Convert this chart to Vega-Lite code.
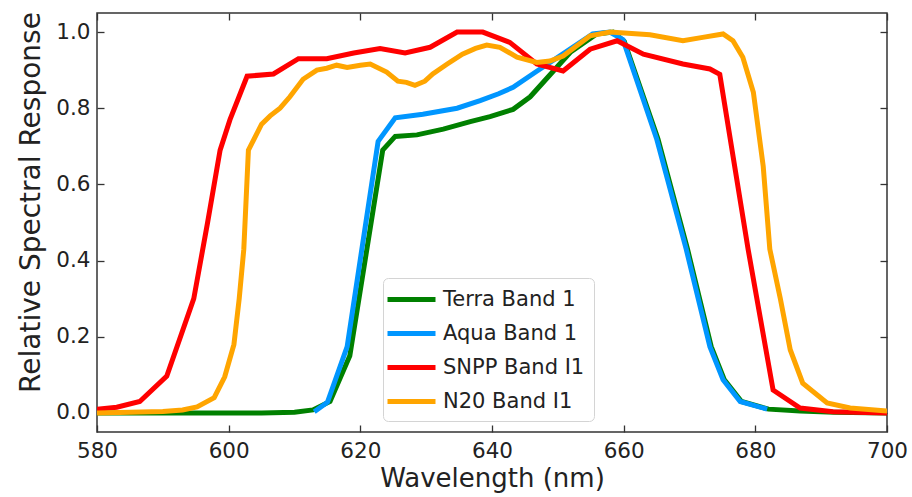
{
  "$schema": "https://vega.github.io/schema/vega-lite/v6.json",
  "autosize": "none",
  "width": 790,
  "height": 419,
  "padding": {"left": 97, "top": 13, "right": 25, "bottom": 65},
  "background": "white",
  "config": {
    "font": "DejaVu Sans",
    "view": {"stroke": "#333", "strokeWidth": 1.5},
    "axis": {"grid": false, "domain": false, "tickColor": "#333", "tickWidth": 1.3, "tickSize": 7, "offset": -7, "labelFlush": false, "labelFont": "DejaVu Sans", "labelFontSize": 21.5, "labelColor": "#222", "titleFont": "DejaVu Sans", "titleFontWeight": "normal", "titleColor": "#222"}
  },
  "data": {"values": [
    {"s": "Terra Band 1", "wl": 580, "v": 0.0},
    {"s": "Terra Band 1", "wl": 590, "v": 0.0},
    {"s": "Terra Band 1", "wl": 600, "v": 0.0},
    {"s": "Terra Band 1", "wl": 605, "v": 0.0},
    {"s": "Terra Band 1", "wl": 610, "v": 0.002},
    {"s": "Terra Band 1", "wl": 612.8, "v": 0.008},
    {"s": "Terra Band 1", "wl": 615.4, "v": 0.03},
    {"s": "Terra Band 1", "wl": 618.4, "v": 0.15},
    {"s": "Terra Band 1", "wl": 623.4, "v": 0.69},
    {"s": "Terra Band 1", "wl": 625.3, "v": 0.726},
    {"s": "Terra Band 1", "wl": 628.6, "v": 0.73},
    {"s": "Terra Band 1", "wl": 632.6, "v": 0.745},
    {"s": "Terra Band 1", "wl": 636.7, "v": 0.765},
    {"s": "Terra Band 1", "wl": 639.7, "v": 0.778},
    {"s": "Terra Band 1", "wl": 643.2, "v": 0.797},
    {"s": "Terra Band 1", "wl": 645.8, "v": 0.83},
    {"s": "Terra Band 1", "wl": 649.3, "v": 0.897},
    {"s": "Terra Band 1", "wl": 651.9, "v": 0.947},
    {"s": "Terra Band 1", "wl": 655.9, "v": 0.995},
    {"s": "Terra Band 1", "wl": 658.4, "v": 1.0},
    {"s": "Terra Band 1", "wl": 660.1, "v": 0.975},
    {"s": "Terra Band 1", "wl": 665.2, "v": 0.72},
    {"s": "Terra Band 1", "wl": 669.7, "v": 0.43},
    {"s": "Terra Band 1", "wl": 673.3, "v": 0.174},
    {"s": "Terra Band 1", "wl": 675.3, "v": 0.087},
    {"s": "Terra Band 1", "wl": 677.9, "v": 0.03},
    {"s": "Terra Band 1", "wl": 682, "v": 0.01},
    {"s": "Terra Band 1", "wl": 686.8, "v": 0.005},
    {"s": "Terra Band 1", "wl": 692, "v": 0.002},
    {"s": "Terra Band 1", "wl": 700, "v": 0.0},
    {"s": "Aqua Band 1", "wl": 613, "v": 0.003},
    {"s": "Aqua Band 1", "wl": 615, "v": 0.028},
    {"s": "Aqua Band 1", "wl": 618, "v": 0.174},
    {"s": "Aqua Band 1", "wl": 622.7, "v": 0.713},
    {"s": "Aqua Band 1", "wl": 625.3, "v": 0.775},
    {"s": "Aqua Band 1", "wl": 629.5, "v": 0.784},
    {"s": "Aqua Band 1", "wl": 634.7, "v": 0.8},
    {"s": "Aqua Band 1", "wl": 638.2, "v": 0.82},
    {"s": "Aqua Band 1", "wl": 641, "v": 0.838},
    {"s": "Aqua Band 1", "wl": 643.2, "v": 0.855},
    {"s": "Aqua Band 1", "wl": 646.8, "v": 0.897},
    {"s": "Aqua Band 1", "wl": 651.4, "v": 0.95},
    {"s": "Aqua Band 1", "wl": 655.3, "v": 0.995},
    {"s": "Aqua Band 1", "wl": 657.9, "v": 1.0},
    {"s": "Aqua Band 1", "wl": 659.9, "v": 0.98},
    {"s": "Aqua Band 1", "wl": 665, "v": 0.72},
    {"s": "Aqua Band 1", "wl": 669.5, "v": 0.43},
    {"s": "Aqua Band 1", "wl": 673.1, "v": 0.174},
    {"s": "Aqua Band 1", "wl": 675.1, "v": 0.087},
    {"s": "Aqua Band 1", "wl": 677.7, "v": 0.03},
    {"s": "Aqua Band 1", "wl": 681.8, "v": 0.01},
    {"s": "SNPP Band I1", "wl": 580, "v": 0.01},
    {"s": "SNPP Band I1", "wl": 583, "v": 0.015},
    {"s": "SNPP Band I1", "wl": 586.5, "v": 0.03},
    {"s": "SNPP Band I1", "wl": 590.6, "v": 0.097},
    {"s": "SNPP Band I1", "wl": 594.7, "v": 0.3},
    {"s": "SNPP Band I1", "wl": 596.8, "v": 0.5},
    {"s": "SNPP Band I1", "wl": 598.7, "v": 0.69},
    {"s": "SNPP Band I1", "wl": 600.2, "v": 0.77},
    {"s": "SNPP Band I1", "wl": 602.8, "v": 0.884},
    {"s": "SNPP Band I1", "wl": 606.8, "v": 0.89},
    {"s": "SNPP Band I1", "wl": 610.6, "v": 0.93},
    {"s": "SNPP Band I1", "wl": 614.9, "v": 0.93},
    {"s": "SNPP Band I1", "wl": 619, "v": 0.945},
    {"s": "SNPP Band I1", "wl": 623, "v": 0.957},
    {"s": "SNPP Band I1", "wl": 626.8, "v": 0.945},
    {"s": "SNPP Band I1", "wl": 630.6, "v": 0.96},
    {"s": "SNPP Band I1", "wl": 634.7, "v": 1.0},
    {"s": "SNPP Band I1", "wl": 638.6, "v": 1.0},
    {"s": "SNPP Band I1", "wl": 642.7, "v": 0.973},
    {"s": "SNPP Band I1", "wl": 646.8, "v": 0.916},
    {"s": "SNPP Band I1", "wl": 650.8, "v": 0.898},
    {"s": "SNPP Band I1", "wl": 654.9, "v": 0.955},
    {"s": "SNPP Band I1", "wl": 659, "v": 0.977},
    {"s": "SNPP Band I1", "wl": 663, "v": 0.942},
    {"s": "SNPP Band I1", "wl": 669, "v": 0.916},
    {"s": "SNPP Band I1", "wl": 673.1, "v": 0.903},
    {"s": "SNPP Band I1", "wl": 674.6, "v": 0.889},
    {"s": "SNPP Band I1", "wl": 678.9, "v": 0.43},
    {"s": "SNPP Band I1", "wl": 682.7, "v": 0.06},
    {"s": "SNPP Band I1", "wl": 686.8, "v": 0.013},
    {"s": "SNPP Band I1", "wl": 691.8, "v": 0.003},
    {"s": "SNPP Band I1", "wl": 700, "v": 0.0},
    {"s": "N20 Band I1", "wl": 580, "v": 0.0},
    {"s": "N20 Band I1", "wl": 585, "v": 0.002},
    {"s": "N20 Band I1", "wl": 590, "v": 0.004},
    {"s": "N20 Band I1", "wl": 593, "v": 0.008},
    {"s": "N20 Band I1", "wl": 595.2, "v": 0.016},
    {"s": "N20 Band I1", "wl": 597.8, "v": 0.04},
    {"s": "N20 Band I1", "wl": 599.4, "v": 0.095},
    {"s": "N20 Band I1", "wl": 600.8, "v": 0.18},
    {"s": "N20 Band I1", "wl": 601.6, "v": 0.3},
    {"s": "N20 Band I1", "wl": 602.3, "v": 0.43},
    {"s": "N20 Band I1", "wl": 603, "v": 0.69},
    {"s": "N20 Band I1", "wl": 605, "v": 0.758},
    {"s": "N20 Band I1", "wl": 606.3, "v": 0.78},
    {"s": "N20 Band I1", "wl": 607.8, "v": 0.8},
    {"s": "N20 Band I1", "wl": 609.3, "v": 0.83},
    {"s": "N20 Band I1", "wl": 611.3, "v": 0.876},
    {"s": "N20 Band I1", "wl": 613.4, "v": 0.9},
    {"s": "N20 Band I1", "wl": 614.9, "v": 0.905},
    {"s": "N20 Band I1", "wl": 616.4, "v": 0.913},
    {"s": "N20 Band I1", "wl": 618, "v": 0.907},
    {"s": "N20 Band I1", "wl": 620, "v": 0.913},
    {"s": "N20 Band I1", "wl": 621.5, "v": 0.916},
    {"s": "N20 Band I1", "wl": 624, "v": 0.895},
    {"s": "N20 Band I1", "wl": 625.7, "v": 0.871},
    {"s": "N20 Band I1", "wl": 627, "v": 0.868},
    {"s": "N20 Band I1", "wl": 628.3, "v": 0.86},
    {"s": "N20 Band I1", "wl": 629.8, "v": 0.871},
    {"s": "N20 Band I1", "wl": 631, "v": 0.89},
    {"s": "N20 Band I1", "wl": 633.2, "v": 0.916},
    {"s": "N20 Band I1", "wl": 635.5, "v": 0.942},
    {"s": "N20 Band I1", "wl": 637.5, "v": 0.957},
    {"s": "N20 Band I1", "wl": 639.2, "v": 0.966},
    {"s": "N20 Band I1", "wl": 641.2, "v": 0.96},
    {"s": "N20 Band I1", "wl": 643.8, "v": 0.934},
    {"s": "N20 Band I1", "wl": 646.8, "v": 0.92},
    {"s": "N20 Band I1", "wl": 648.8, "v": 0.924},
    {"s": "N20 Band I1", "wl": 650.8, "v": 0.937},
    {"s": "N20 Band I1", "wl": 654.9, "v": 0.99},
    {"s": "N20 Band I1", "wl": 657.9, "v": 1.0},
    {"s": "N20 Band I1", "wl": 664, "v": 0.993},
    {"s": "N20 Band I1", "wl": 669, "v": 0.977},
    {"s": "N20 Band I1", "wl": 672, "v": 0.986},
    {"s": "N20 Band I1", "wl": 675.1, "v": 0.995},
    {"s": "N20 Band I1", "wl": 676.6, "v": 0.977},
    {"s": "N20 Band I1", "wl": 678.1, "v": 0.934},
    {"s": "N20 Band I1", "wl": 679.7, "v": 0.842},
    {"s": "N20 Band I1", "wl": 681.2, "v": 0.647},
    {"s": "N20 Band I1", "wl": 682.2, "v": 0.43},
    {"s": "N20 Band I1", "wl": 683.8, "v": 0.3},
    {"s": "N20 Band I1", "wl": 685.3, "v": 0.166},
    {"s": "N20 Band I1", "wl": 687.2, "v": 0.078},
    {"s": "N20 Band I1", "wl": 690.9, "v": 0.026},
    {"s": "N20 Band I1", "wl": 694.4, "v": 0.013},
    {"s": "N20 Band I1", "wl": 700, "v": 0.005}
  ]},
  "resolve": {"axis": {"x": "independent", "y": "independent"}},
  "layer": [
    {
      "mark": {"type": "line", "strokeWidth": 5, "clip": true},
      "encoding": {
        "x": {"field": "wl", "type": "quantitative", "scale": {"domain": [580, 700], "nice": false, "zero": false},
              "axis": {"orient": "bottom", "title": "Wavelength (nm)", "titleFontSize": 26, "values": [580, 600, 620, 640, 660, 680, 700], "labelPadding": 8, "titlePadding": 4}},
        "y": {"field": "v", "type": "quantitative", "scale": {"domain": [-0.05, 1.05], "nice": false, "zero": false},
              "axis": {"orient": "left", "title": "Relative Spectral Response", "titleFontSize": 28, "titleY": 189, "values": [0, 0.2, 0.4, 0.6, 0.8, 1.0], "format": ".1f", "labelPadding": 7, "titlePadding": 10}},
        "color": {"field": "s", "type": "nominal",
                  "scale": {"domain": ["Terra Band 1", "Aqua Band 1", "SNPP Band I1", "N20 Band I1"], "range": ["#008000", "#0096ff", "#ff0000", "#ffa500"]},
                  "legend": {"title": null, "orient": "none", "legendX": 286, "legendY": 265,
                             "fillColor": "white", "strokeColor": "#d4d4d4", "cornerRadius": 5, "padding": 9,
                             "symbolType": "M-2.4,0H2.4", "symbolSize": 400, "symbolStrokeWidth": 5, "symbolOffset": 7,
                             "labelOffset": 19, "labelFontSize": 21, "labelColor": "#222", "labelFont": "DejaVu Sans",
                             "rowPadding": 11}}
      }
    },
    {
      "mark": {"type": "line", "opacity": 0},
      "encoding": {
        "x": {"field": "wl", "type": "quantitative", "axis": {"orient": "top", "title": null, "labels": false, "values": [580, 600, 620, 640, 660, 680, 700]}},
        "y": {"field": "v", "type": "quantitative", "axis": {"orient": "right", "title": null, "labels": false, "values": [0, 0.2, 0.4, 0.6, 0.8, 1.0]}},
        "detail": {"field": "s"}
      }
    }
  ]
}
